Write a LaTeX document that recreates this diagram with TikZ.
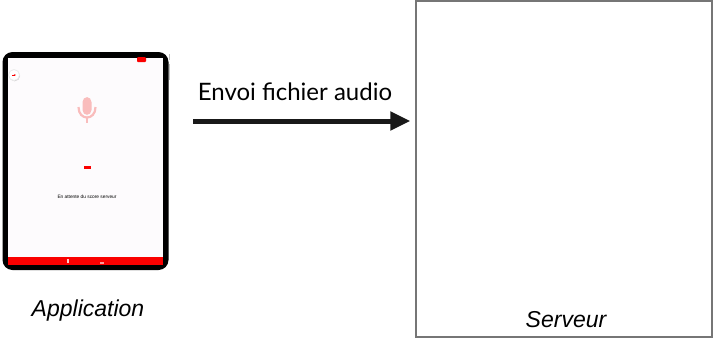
\documentclass[tikz,border=0pt]{standalone}
\usepackage{fontspec}
\setmainfont{Liberation Sans}
\newfontfamily\latofont{Lato}
\usetikzlibrary{positioning,calc,shadows,arrows.meta}
\definecolor{rougeapp}{RGB}{250,0,0}
\definecolor{rosemicro}{RGB}{249,188,188}
\definecolor{ecran}{RGB}{253,251,253}
\definecolor{grisbord}{RGB}{118,118,118}

\tikzset{
	legende/.style={font=\fontsize{11.5}{13}\selectfont\itshape, inner sep=0pt},
	fleche/.style={black!90!white, line width=2.5pt, -{Triangle[length=10pt,width=9pt]}}
}

\begin{document}
\begin{tikzpicture}[x=0.5pt,y=-0.5pt]
	\useasboundingbox (0,0) rectangle (713,338);

	% tablette
	\node[rectangle,fill=black,rounded corners=5pt,minimum width=83pt,minimum height=109pt,inner sep=0pt] (tablet) at (85.5,161) {};
	\node[rectangle,fill=ecran,minimum width=77.5pt,minimum height=103.5pt,inner sep=0pt] (screen) at (tablet.center) {};
	\node[rectangle,fill=rougeapp,minimum width=77.5pt,minimum height=4pt,inner sep=0pt,anchor=south] (barre) at (screen.south) {};
	\fill[black!25] (168.5,54) rectangle (170,60);
	\fill[black!25] (168.5,64) rectangle (170,80);

	% ecran : micro, attente
	\fill[rosemicro,rounded corners=2.5pt] (82.5,97) rectangle (91.5,115);
	\draw[rosemicro,line width=1.1pt] (78.5,107) .. controls (78.5,121) and (95.5,121) .. (95.5,107);
	\draw[rosemicro,line width=1.1pt] (87,117) -- (87,123);
	\fill[rougeapp] (84,166) rectangle (91,168.5);
	\node[font=\fontsize{2.4}{3}\selectfont,inner sep=0pt] (attente) at (87,197) {En attente du score serveur};
	\node[circle,fill=white,draw=black!8,drop shadow={opacity=0.35,shadow xshift=0.3pt,shadow yshift=-0.4pt},minimum size=5.5pt,inner sep=0pt] (retour) at (14,75) {};
	\draw[rougeapp,line width=0.4pt,-{Stealth[length=1pt]}] ([xshift=-1pt]retour.center) -- ([xshift=1pt]retour.center);
	\fill[rougeapp,rounded corners=0.5pt] (137,57) rectangle (146,62);
	\fill[white!80!rougeapp] (67,259) rectangle (69,263);
	\fill[white!60!rougeapp] (100,262) rectangle (104,264);

	% serveur
	\node[rectangle,draw=grisbord,line width=0.7pt,minimum width=148pt,minimum height=168pt,inner sep=0pt] (server) at (564,169) {};

	\node[legende] (app) at (88,311) {Application};
	\node[legende] (serv) at (566,320) {Serveur};

	\coordinate (depart) at (193,121);
	\draw[fleche,shorten >=2.5pt] (depart) -- (server.west |- depart);
	\node[font=\latofont\fontsize{12}{14}\selectfont,inner sep=0pt,anchor=base] (envoi) at (295,100) {Envoi fichier audio};
\end{tikzpicture}
\end{document}
